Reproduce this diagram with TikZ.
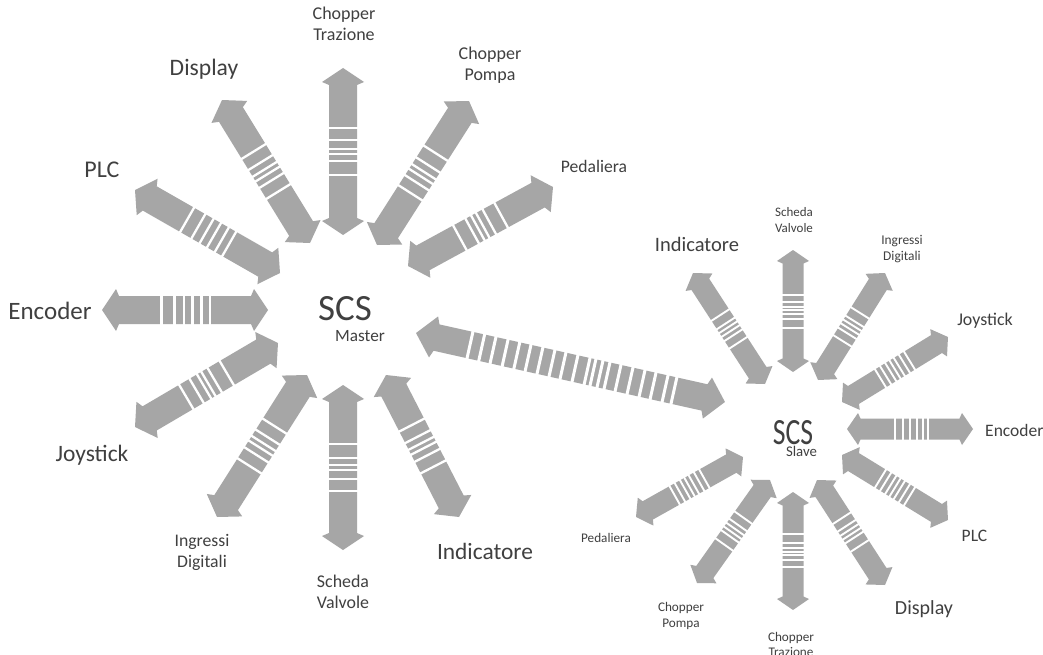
\documentclass[tikz,border=0pt]{standalone}
\usepackage{fontspec}
\setmainfont{Carlito}
\usetikzlibrary{decorations.markings}
\definecolor{agray}{RGB}{166,166,166}
\definecolor{txt}{RGB}{64,64,64}
\newcommand\fsz[2]{\fontsize{#1}{#2}\selectfont}
\newcommand\twol[2]{\begin{tabular}[t]{@{}c@{}}#1\\#2\end{tabular}}
\newcommand\fatshape[6]{%
  \pgfmathsetmacro\fL{\pgfdecoratedpathlength/2}%
  \pgfmathsetmacro\fA{-\fL+#3}%
  \pgfmathsetmacro\fB{-\fL+#4}%
  \pgfmathsetmacro\fC{\fL-#4}%
  \pgfmathsetmacro\fD{\fL-#3}%
  \pgfmathsetmacro\fS{#1+1}%
  \fill[agray] (-\fL pt,0pt) -- (\fA pt,#2pt) -- (\fB pt,#1pt) -- (\fC pt,#1pt) -- (\fD pt,#2pt) -- (\fL pt,0pt) -- (\fD pt,-#2pt) -- (\fC pt,-#1pt) -- (\fB pt,-#1pt) -- (\fA pt,-#2pt) -- cycle;
  \foreach \o in {#5} {\draw[white, line width=#6pt] (\o pt,-\fS pt) -- (\o pt,\fS pt);}%
}
\tikzset{
  lbl/.style={anchor=base, text=txt, inner sep=0pt},
  marrow/.style={decorate, decoration={markings, mark=at position 0.5 with {\fatshape{14}{21}{14}{17}{#1}{2.3}}}},
  sarrow/.style={decorate, decoration={markings, mark=at position 0.5 with {\fatshape{10.5}{16}{11}{13.5}{#1}{1.9}}}},
  larrow/.style={decorate, decoration={markings, mark=at position 0.5 with {\fatshape{13.5}{21}{18}{21}{#1}{3}}}},
}
\begin{document}
\begin{tikzpicture}[x=1pt,y=-1pt]
\useasboundingbox (0,0) rectangle (1043,655);
\fill[white] (0,0) rectangle (1043,655);

% ---------------- Master hub ----------------
\coordinate (mhub) at (343,310);
\node[lbl, font=\fsz{37}{40}] (mscs) at (345,320) {SCS};
\node[lbl, font=\fsz{17.2}{20}] (mmas) at (360,341) {Master};

\coordinate (m1a) at (343,235); \coordinate (m1b) at (343,68);
\coordinate (m2a) at (377,245); \coordinate (m2b) at (469,101);
\coordinate (m3a) at (408,266); \coordinate (m3b) at (553,187);
\coordinate (m4a) at (310,243); \coordinate (m4b) at (222,100);
\coordinate (m5a) at (280,273); \coordinate (m5b) at (135,190);
\coordinate (m6a) at (268,310); \coordinate (m6b) at (102,310);
\coordinate (m7a) at (278,343); \coordinate (m7b) at (135,427);
\coordinate (m8a) at (307,375); \coordinate (m8b) at (217,517);
\coordinate (m9a) at (343,385); \coordinate (m9b) at (343,550);
\coordinate (m10a) at (386,375); \coordinate (m10b) at (459,517);

\path[marrow={-23.5,-9.5,-2.2,2.8,11.5,23.5}] (m1a) -- (m1b);
\path[marrow={-23.5,-11.5,-4,1.5,9.5,23.5}] (m2a) -- (m2b);
\path[marrow={-23.5,-9.5,-3,2.5,10,23.5}] (m3a) -- (m3b);
\path[marrow={-23.5,-10.5,-3,2.5,10.5,23.5}] (m4a) -- (m4b);
\path[marrow={-25,-16.5,-7.5,1,10.5,23.5}] (m5a) -- (m5b);
\path[marrow={-25,-16.5,-7.5,1,10.5,23.5}] (m6a) -- (m6b);
\path[marrow={-23.5,-9.5,-2.2,2.8,11.5,23.5}] (m7a) -- (m7b);
\path[marrow={-23.5,-10.5,-3,2.5,10.5,23.5}] (m8a) -- (m8b);
\path[marrow={-23.5,-9.5,-2.2,2.8,11.5,23.5}] (m9a) -- (m9b);
\path[marrow={-23.5,-10.5,-3,2.5,10.5,23.5}] (m10a) -- (m10b);

\node[lbl, font=\fsz{18}{21}] (mct) at (344,20) {\twol{Chopper}{Trazione}};
\node[lbl, font=\fsz{18}{20.5}] (mcp) at (490,60) {\twol{Chopper}{Pompa}};
\node[lbl, font=\fsz{17.6}{20}] (mpd) at (594,172) {Pedaliera};
\node[lbl, font=\fsz{23.6}{26}] (mdi) at (204,76) {Display};
\node[lbl, font=\fsz{24}{26}] (mpl) at (102,178) {PLC};
\node[lbl, font=\fsz{25}{28}] (men) at (50,319) {Encoder};
\node[lbl, font=\fsz{23.5}{26}] (mjo) at (92,461) {Joystick};
\node[lbl, font=\fsz{17.7}{21}] (mig) at (202,546) {\twol{Ingressi}{Digitali}};
\node[lbl, font=\fsz{17.9}{21}] (msv) at (343,587) {\twol{Scheda}{Valvole}};
\node[lbl, font=\fsz{23.4}{26}] (mid) at (485,559) {Indicatore};

% ---------------- Link ----------------
\coordinate (la) at (416,333); \coordinate (lb) at (725,402);
\path[larrow={-103,-91,-79.4,-67,-55,-43.5,-31.3,-19,-7.7,4.6,17,23,30.2,37.4,48.7,61,73.3,84.6,96.9,106}] (la) -- (lb);

% ---------------- Slave hub ----------------
\coordinate (shub) at (793,431);
\node[lbl, font=\fsz{37}{40}] (sscs) at (793,444) {\scalebox{0.75}[1]{SCS}};
\node[lbl, font=\fsz{14.8}{17}] (ssl) at (801.5,456) {Slave};

\coordinate (s1a) at (793,372); \coordinate (s1b) at (793,250);
\coordinate (s2a) at (818,380); \coordinate (s2b) at (885,273);
\coordinate (s3a) at (842,402); \coordinate (s3b) at (948,337);
\coordinate (s4a) at (847,429); \coordinate (s4b) at (973,429);
\coordinate (s5a) at (842,455); \coordinate (s5b) at (948,520);
\coordinate (s6a) at (817,480); \coordinate (s6b) at (885,585);
\coordinate (s7a) at (793,492); \coordinate (s7b) at (793,610);
\coordinate (s8a) at (770,480); \coordinate (s8b) at (697,583);
\coordinate (s9a) at (743,457); \coordinate (s9b) at (636,517);
\coordinate (s10a) at (765,384); \coordinate (s10b) at (693,273);

\path[sarrow={-17,-8.3,-3.3,1,4.3,9,16}] (s1a) -- (s1b);
\path[sarrow={-17,-8,-3,1.5,6,16}] (s2a) -- (s2b);
\path[sarrow={-17,-11,-5,0,5,11,17}] (s3a) -- (s3b);
\path[sarrow={-15,-7,0,7,13,18}] (s4a) -- (s4b);
\path[sarrow={-17,-11,-5,0,5,11,17}] (s5a) -- (s5b);
\path[sarrow={-17,-8,-3,1.5,6,16}] (s6a) -- (s6b);
\path[sarrow={-17,-8.3,-3.3,1,4.3,9,16}] (s7a) -- (s7b);
\path[sarrow={-17,-8,-3,1.5,6,16}] (s8a) -- (s8b);
\path[sarrow={-17,-11,-5,0,5,11,17}] (s9a) -- (s9b);
\path[sarrow={-17,-8,-3,1.5,6,16}] (s10a) -- (s10b);

\node[lbl, font=\fsz{13}{16}] (ssv) at (794,216) {\twol{Scheda}{Valvole}};
\node[lbl, font=\fsz{13.4}{16}] (sig) at (902,244) {\twol{Ingressi}{Digitali}};
\node[lbl, font=\fsz{17.9}{20}] (sjo) at (985,325) {Joystick};
\node[lbl, font=\fsz{20.5}{23}] (sid) at (697,251) {Indicatore};
\node[lbl, anchor=base west, font=\fsz{17.5}{20}] (sen) at (985,436) {Encoder};
\node[lbl, font=\fsz{17.5}{20}] (spl) at (974.5,541) {PLC};
\node[lbl, font=\fsz{20}{23}] (sdi) at (924,614) {Display};
\node[lbl, font=\fsz{13.2}{15.5}] (sct) at (791,641) {\twol{Chopper}{Trazione}};
\node[lbl, font=\fsz{13.2}{16}] (scp) at (681,611) {\twol{Chopper}{Pompa}};
\node[lbl, font=\fsz{13.2}{16}] (spd) at (606,542) {Pedaliera};
\end{tikzpicture}
\end{document}
